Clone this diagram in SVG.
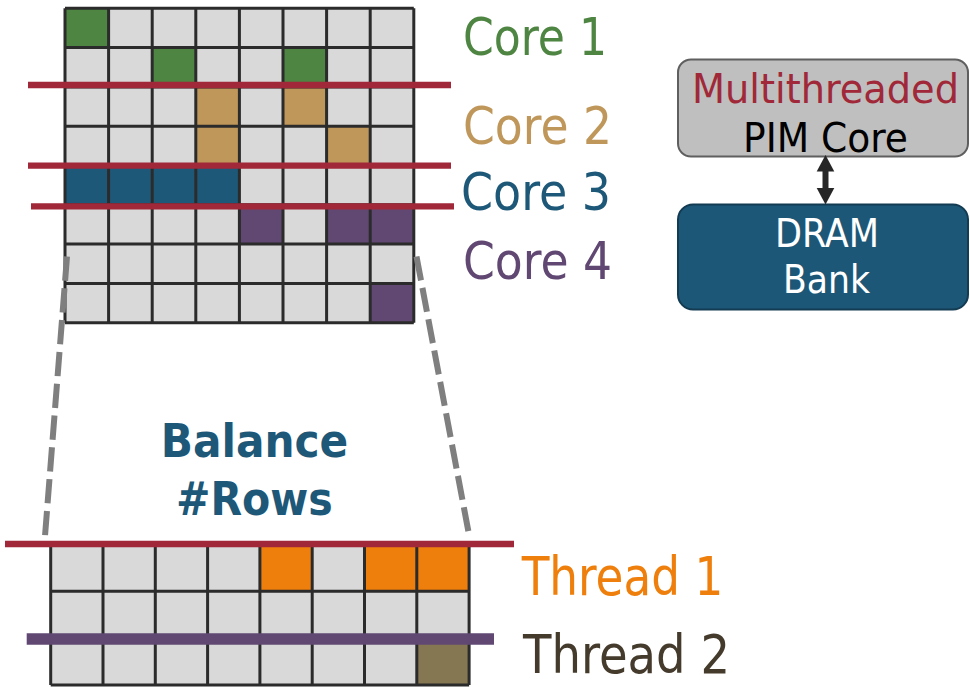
<svg xmlns="http://www.w3.org/2000/svg" width="970" height="687" viewBox="0 0 970 687">
<style>
text{font-family:"DejaVu Sans Condensed","DejaVu Sans",sans-serif;}
.cell{fill:#d9d9d9;}
.grid{fill:none;stroke:#2b2b2b;stroke-width:3;}
.green{fill:#4e8542;} .tan{fill:#c0975a;} .blue{fill:#1e5878;} .purple{fill:#604873;}
.orange{fill:#ef7f0c;} .olive{fill:#867753;}
.split{stroke:#a02838;stroke-width:6.3;}
.dash{stroke:#7f7f7f;stroke-width:6;stroke-dasharray:24.3 7.6;fill:none;}
.lbl{font-size:52px;}
</style>
<defs>
<marker id="ah" markerUnits="userSpaceOnUse" markerWidth="24" markerHeight="24" viewBox="0 -12 24 24" refX="5" refY="0" orient="auto-start-reverse">
<path d="M0,-8.8 L16.5,0 L0,8.8 z" fill="#262626"/>
</marker>
</defs>

<g id="top-grid">
<rect class="cell" x="65" y="8.3" width="348.8" height="314.4"/>
<rect class="green" x="65" y="8.3" width="43.6" height="39.3"/>
<rect class="green" x="152.2" y="47.6" width="43.6" height="39.3"/>
<rect class="green" x="283" y="47.6" width="43.6" height="39.3"/>
<rect class="tan" x="195.8" y="86.9" width="43.6" height="39.3"/>
<rect class="tan" x="283" y="86.9" width="43.6" height="39.3"/>
<rect class="tan" x="195.8" y="126.2" width="43.6" height="39.3"/>
<rect class="tan" x="326.6" y="126.2" width="43.6" height="39.3"/>
<rect class="blue" x="65" y="165.5" width="174.4" height="39.3"/>
<rect class="purple" x="239.4" y="204.8" width="43.6" height="39.3"/>
<rect class="purple" x="326.6" y="204.8" width="87.2" height="39.3"/>
<rect class="purple" x="370.2" y="283.4" width="43.6" height="39.3"/>
<path class="grid" d="M65,8.3V322.7M108.6,8.3V322.7M152.2,8.3V322.7M195.8,8.3V322.7M239.4,8.3V322.7M283,8.3V322.7M326.6,8.3V322.7M370.2,8.3V322.7M413.8,8.3V322.7M65,8.3H413.8M65,47.6H413.8M65,86.9H413.8M65,126.2H413.8M65,165.5H413.8M65,204.8H413.8M65,244.1H413.8M65,283.4H413.8M65,322.7H413.8"/>
<line class="split" x1="28" y1="85" x2="451" y2="85"/>
<line class="split" x1="28" y1="165.7" x2="451" y2="165.7"/>
<line class="split" x1="31" y1="206.3" x2="454" y2="206.3"/>
</g>

<g id="core-labels">
<text class="lbl" x="463" y="55" fill="#4e8542" textLength="144" lengthAdjust="spacingAndGlyphs">Core 1</text>
<text class="lbl" x="463" y="144" fill="#c0975a" textLength="149" lengthAdjust="spacingAndGlyphs">Core 2</text>
<text class="lbl" x="461" y="210" fill="#1e5878" textLength="150" lengthAdjust="spacingAndGlyphs">Core 3</text>
<text class="lbl" x="463" y="279" fill="#604873" textLength="149" lengthAdjust="spacingAndGlyphs">Core 4</text>
</g>

<g id="pim-core">
<rect x="678" y="59.5" width="290" height="97" rx="13" fill="#bfbfbf" stroke="#5f5f5f" stroke-width="2"/>
<text x="692" y="103" font-size="41" fill="#a02838" textLength="267" lengthAdjust="spacingAndGlyphs">Multithreaded</text>
<text x="743" y="151.5" font-size="41" fill="#000" textLength="165" lengthAdjust="spacingAndGlyphs">PIM Core</text>
</g>

<g id="dram-bank">
<rect x="678" y="204.5" width="290" height="105" rx="15" fill="#1d5778" stroke="#133b52" stroke-width="2"/>
<text x="775" y="247.3" font-size="39" fill="#ffffff" textLength="104" lengthAdjust="spacingAndGlyphs">DRAM</text>
<text x="783" y="292.7" font-size="39" fill="#ffffff" textLength="87" lengthAdjust="spacingAndGlyphs">Bank</text>
</g>

<g id="connectors">
<line x1="825.5" y1="166.5" x2="825.5" y2="193" stroke="#262626" stroke-width="6" marker-start="url(#ah)" marker-end="url(#ah)"/>
<line class="dash" x1="67" y1="256.5" x2="45" y2="536"/>
<line class="dash" x1="416.5" y1="256.5" x2="468.5" y2="532"/>
</g>

<g id="balance-label">
<text x="160.7" y="456.7" font-size="46.5" font-weight="bold" fill="#1e5878" textLength="187.6" lengthAdjust="spacingAndGlyphs">Balance</text>
<text x="176" y="515" font-size="46.5" font-weight="bold" fill="#1e5878" textLength="156.7" lengthAdjust="spacingAndGlyphs">#Rows</text>
</g>

<g id="bottom-grid">
<rect class="cell" x="50.7" y="544.5" width="418.4" height="140.4"/>
<rect class="orange" x="259.9" y="544.5" width="52.3" height="46.8"/>
<rect class="orange" x="364.5" y="544.5" width="104.6" height="46.8"/>
<rect class="olive" x="416.8" y="638.1" width="52.3" height="46.8"/>
<path class="grid" d="M50.7,544.5V684.9M103,544.5V684.9M155.3,544.5V684.9M207.6,544.5V684.9M259.9,544.5V684.9M312.2,544.5V684.9M364.5,544.5V684.9M416.8,544.5V684.9M469.1,544.5V684.9M50.7,544.5H469.1M50.7,591.3H469.1M50.7,638.1H469.1M50.7,684.9H469.1"/>
<line class="split" x1="5" y1="544" x2="514" y2="544"/>
<line x1="26.7" y1="639" x2="494" y2="639" stroke="#604873" stroke-width="11.7"/>
</g>

<g id="thread-labels">
<text x="521.7" y="595" font-size="53" fill="#ef7f0c" textLength="201.6" lengthAdjust="spacingAndGlyphs">Thread 1</text>
<text x="523" y="672.7" font-size="53" fill="#453b2c" textLength="207" lengthAdjust="spacingAndGlyphs">Thread 2</text>
</g>
</svg>
